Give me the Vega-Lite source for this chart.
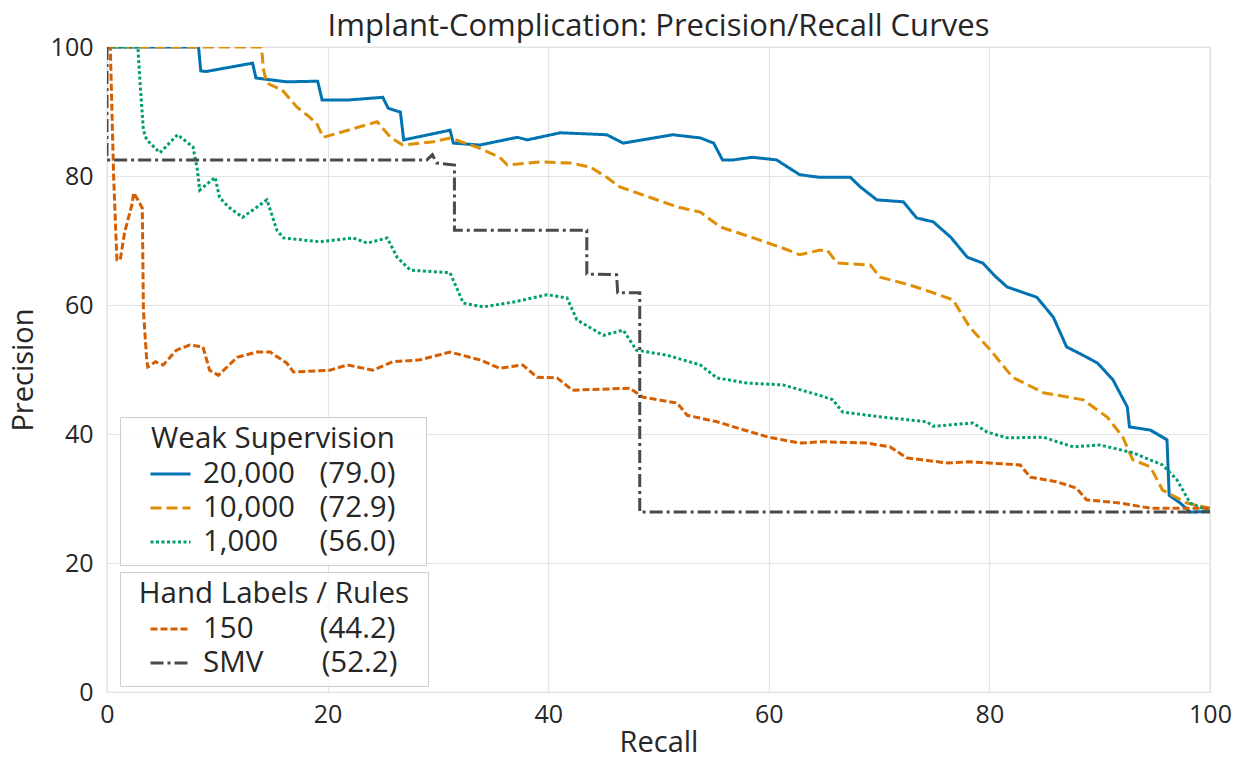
{
  "$schema": "https://vega.github.io/schema/vega-lite/v6.json",
  "width": 1103,
  "height": 645,
  "autosize": {"type": "none"},
  "padding": {"left": 107, "top": 47, "right": 26, "bottom": 67},
  "background": "white",
  "title": {"text": "Implant-Complication: Precision/Recall Curves", "fontSize": 31, "fontWeight": "normal", "color": "#262626", "anchor": "middle", "offset": -8},
  "config": {
    "font": "Open Sans",
    "view": {"stroke": "#cccccc", "strokeWidth": 1.2},
    "axis": {"grid": true, "gridColor": "#e3e3e3", "gridWidth": 1.2, "domain": false, "ticks": false, "labelFontSize": 25, "labelColor": "#262626", "titleFontSize": 29, "titleFontWeight": "normal", "titleColor": "#262626", "labelFlush": false},
    "legend": {"orient": "none", "titleAnchor": "middle", "titleFontSize": 29.5, "titleFontWeight": "normal", "titleColor": "#262626", "titleLimit": 500, "labelFontSize": 29.5, "labelColor": "#262626", "labelLimit": 500, "symbolType": "M-1.25,0H1.25", "symbolSize": 1024, "symbolStrokeWidth": 3, "strokeColor": "#cccccc", "fillColor": "rgba(255,255,255,0.8)", "padding": 8, "rowPadding": 2, "symbolOffset": 25, "labelOffset": 15, "titlePadding": 2}
  },
  "datasets": {
    "weak": [
      {"r": 0, "p": 100, "s": "20,000\u2007\u2008(79.0)\u2800"},
      {"r": 8.3, "p": 100, "s": "20,000\u2007\u2008(79.0)\u2800"},
      {"r": 8.5, "p": 96.3, "s": "20,000\u2007\u2008(79.0)\u2800"},
      {"r": 9.0, "p": 96.2, "s": "20,000\u2007\u2008(79.0)\u2800"},
      {"r": 13.2, "p": 97.5, "s": "20,000\u2007\u2008(79.0)\u2800"},
      {"r": 13.5, "p": 95.2, "s": "20,000\u2007\u2008(79.0)\u2800"},
      {"r": 16.3, "p": 94.6, "s": "20,000\u2007\u2008(79.0)\u2800"},
      {"r": 19.1, "p": 94.7, "s": "20,000\u2007\u2008(79.0)\u2800"},
      {"r": 19.5, "p": 91.8, "s": "20,000\u2007\u2008(79.0)\u2800"},
      {"r": 22.0, "p": 91.8, "s": "20,000\u2007\u2008(79.0)\u2800"},
      {"r": 25.0, "p": 92.2, "s": "20,000\u2007\u2008(79.0)\u2800"},
      {"r": 25.5, "p": 90.5, "s": "20,000\u2007\u2008(79.0)\u2800"},
      {"r": 26.6, "p": 89.9, "s": "20,000\u2007\u2008(79.0)\u2800"},
      {"r": 26.9, "p": 85.6, "s": "20,000\u2007\u2008(79.0)\u2800"},
      {"r": 31.1, "p": 87.1, "s": "20,000\u2007\u2008(79.0)\u2800"},
      {"r": 31.4, "p": 85.1, "s": "20,000\u2007\u2008(79.0)\u2800"},
      {"r": 33.8, "p": 84.8, "s": "20,000\u2007\u2008(79.0)\u2800"},
      {"r": 37.2, "p": 86.0, "s": "20,000\u2007\u2008(79.0)\u2800"},
      {"r": 38.1, "p": 85.6, "s": "20,000\u2007\u2008(79.0)\u2800"},
      {"r": 41.1, "p": 86.7, "s": "20,000\u2007\u2008(79.0)\u2800"},
      {"r": 45.3, "p": 86.4, "s": "20,000\u2007\u2008(79.0)\u2800"},
      {"r": 46.8, "p": 85.1, "s": "20,000\u2007\u2008(79.0)\u2800"},
      {"r": 51.3, "p": 86.4, "s": "20,000\u2007\u2008(79.0)\u2800"},
      {"r": 53.8, "p": 85.9, "s": "20,000\u2007\u2008(79.0)\u2800"},
      {"r": 55.0, "p": 85.1, "s": "20,000\u2007\u2008(79.0)\u2800"},
      {"r": 55.8, "p": 82.5, "s": "20,000\u2007\u2008(79.0)\u2800"},
      {"r": 56.8, "p": 82.5, "s": "20,000\u2007\u2008(79.0)\u2800"},
      {"r": 58.5, "p": 82.9, "s": "20,000\u2007\u2008(79.0)\u2800"},
      {"r": 60.7, "p": 82.5, "s": "20,000\u2007\u2008(79.0)\u2800"},
      {"r": 62.8, "p": 80.2, "s": "20,000\u2007\u2008(79.0)\u2800"},
      {"r": 64.6, "p": 79.8, "s": "20,000\u2007\u2008(79.0)\u2800"},
      {"r": 67.4, "p": 79.8, "s": "20,000\u2007\u2008(79.0)\u2800"},
      {"r": 68.3, "p": 78.3, "s": "20,000\u2007\u2008(79.0)\u2800"},
      {"r": 69.8, "p": 76.3, "s": "20,000\u2007\u2008(79.0)\u2800"},
      {"r": 72.2, "p": 76.0, "s": "20,000\u2007\u2008(79.0)\u2800"},
      {"r": 73.4, "p": 73.5, "s": "20,000\u2007\u2008(79.0)\u2800"},
      {"r": 74.9, "p": 72.9, "s": "20,000\u2007\u2008(79.0)\u2800"},
      {"r": 76.5, "p": 70.5, "s": "20,000\u2007\u2008(79.0)\u2800"},
      {"r": 78.0, "p": 67.4, "s": "20,000\u2007\u2008(79.0)\u2800"},
      {"r": 79.4, "p": 66.5, "s": "20,000\u2007\u2008(79.0)\u2800"},
      {"r": 80.5, "p": 64.5, "s": "20,000\u2007\u2008(79.0)\u2800"},
      {"r": 81.6, "p": 62.8, "s": "20,000\u2007\u2008(79.0)\u2800"},
      {"r": 84.3, "p": 61.2, "s": "20,000\u2007\u2008(79.0)\u2800"},
      {"r": 85.8, "p": 58.1, "s": "20,000\u2007\u2008(79.0)\u2800"},
      {"r": 87.0, "p": 53.5, "s": "20,000\u2007\u2008(79.0)\u2800"},
      {"r": 88.5, "p": 52.2, "s": "20,000\u2007\u2008(79.0)\u2800"},
      {"r": 89.8, "p": 51.0, "s": "20,000\u2007\u2008(79.0)\u2800"},
      {"r": 91.2, "p": 48.4, "s": "20,000\u2007\u2008(79.0)\u2800"},
      {"r": 92.5, "p": 44.2, "s": "20,000\u2007\u2008(79.0)\u2800"},
      {"r": 92.7, "p": 41.1, "s": "20,000\u2007\u2008(79.0)\u2800"},
      {"r": 94.6, "p": 40.6, "s": "20,000\u2007\u2008(79.0)\u2800"},
      {"r": 96.1, "p": 39.1, "s": "20,000\u2007\u2008(79.0)\u2800"},
      {"r": 96.3, "p": 30.5, "s": "20,000\u2007\u2008(79.0)\u2800"},
      {"r": 97.3, "p": 29.3, "s": "20,000\u2007\u2008(79.0)\u2800"},
      {"r": 98.2, "p": 27.9, "s": "20,000\u2007\u2008(79.0)\u2800"},
      {"r": 100, "p": 28.0, "s": "20,000\u2007\u2008(79.0)\u2800"},

      {"r": 0, "p": 100, "s": "10,000\u2007\u2008(72.9)\u2800"},
      {"r": 14.0, "p": 100, "s": "10,000\u2007\u2008(72.9)\u2800"},
      {"r": 14.2, "p": 96.4, "s": "10,000\u2007\u2008(72.9)\u2800"},
      {"r": 14.5, "p": 94.4, "s": "10,000\u2007\u2008(72.9)\u2800"},
      {"r": 15.9, "p": 93.3, "s": "10,000\u2007\u2008(72.9)\u2800"},
      {"r": 17.2, "p": 90.7, "s": "10,000\u2007\u2008(72.9)\u2800"},
      {"r": 18.1, "p": 89.5, "s": "10,000\u2007\u2008(72.9)\u2800"},
      {"r": 19.0, "p": 88.2, "s": "10,000\u2007\u2008(72.9)\u2800"},
      {"r": 19.6, "p": 86.0, "s": "10,000\u2007\u2008(72.9)\u2800"},
      {"r": 24.5, "p": 88.4, "s": "10,000\u2007\u2008(72.9)\u2800"},
      {"r": 25.7, "p": 86.0, "s": "10,000\u2007\u2008(72.9)\u2800"},
      {"r": 26.8, "p": 84.8, "s": "10,000\u2007\u2008(72.9)\u2800"},
      {"r": 29.6, "p": 85.3, "s": "10,000\u2007\u2008(72.9)\u2800"},
      {"r": 31.1, "p": 85.9, "s": "10,000\u2007\u2008(72.9)\u2800"},
      {"r": 33.5, "p": 84.5, "s": "10,000\u2007\u2008(72.9)\u2800"},
      {"r": 35.6, "p": 82.9, "s": "10,000\u2007\u2008(72.9)\u2800"},
      {"r": 36.3, "p": 81.7, "s": "10,000\u2007\u2008(72.9)\u2800"},
      {"r": 39.5, "p": 82.2, "s": "10,000\u2007\u2008(72.9)\u2800"},
      {"r": 42.0, "p": 82.0, "s": "10,000\u2007\u2008(72.9)\u2800"},
      {"r": 43.8, "p": 81.4, "s": "10,000\u2007\u2008(72.9)\u2800"},
      {"r": 45.3, "p": 79.8, "s": "10,000\u2007\u2008(72.9)\u2800"},
      {"r": 46.5, "p": 78.3, "s": "10,000\u2007\u2008(72.9)\u2800"},
      {"r": 49.2, "p": 76.7, "s": "10,000\u2007\u2008(72.9)\u2800"},
      {"r": 51.7, "p": 75.2, "s": "10,000\u2007\u2008(72.9)\u2800"},
      {"r": 53.8, "p": 74.4, "s": "10,000\u2007\u2008(72.9)\u2800"},
      {"r": 55.6, "p": 72.1, "s": "10,000\u2007\u2008(72.9)\u2800"},
      {"r": 58.6, "p": 70.4, "s": "10,000\u2007\u2008(72.9)\u2800"},
      {"r": 61.3, "p": 68.8, "s": "10,000\u2007\u2008(72.9)\u2800"},
      {"r": 62.8, "p": 67.8, "s": "10,000\u2007\u2008(72.9)\u2800"},
      {"r": 64.6, "p": 68.5, "s": "10,000\u2007\u2008(72.9)\u2800"},
      {"r": 65.3, "p": 68.5, "s": "10,000\u2007\u2008(72.9)\u2800"},
      {"r": 66.2, "p": 66.5, "s": "10,000\u2007\u2008(72.9)\u2800"},
      {"r": 69.2, "p": 66.2, "s": "10,000\u2007\u2008(72.9)\u2800"},
      {"r": 70.1, "p": 64.3, "s": "10,000\u2007\u2008(72.9)\u2800"},
      {"r": 72.8, "p": 63.1, "s": "10,000\u2007\u2008(72.9)\u2800"},
      {"r": 74.9, "p": 61.9, "s": "10,000\u2007\u2008(72.9)\u2800"},
      {"r": 76.7, "p": 60.8, "s": "10,000\u2007\u2008(72.9)\u2800"},
      {"r": 78.2, "p": 56.6, "s": "10,000\u2007\u2008(72.9)\u2800"},
      {"r": 80.1, "p": 53.0, "s": "10,000\u2007\u2008(72.9)\u2800"},
      {"r": 82.1, "p": 48.8, "s": "10,000\u2007\u2008(72.9)\u2800"},
      {"r": 84.9, "p": 46.4, "s": "10,000\u2007\u2008(72.9)\u2800"},
      {"r": 88.5, "p": 45.3, "s": "10,000\u2007\u2008(72.9)\u2800"},
      {"r": 90.7, "p": 42.6, "s": "10,000\u2007\u2008(72.9)\u2800"},
      {"r": 92.1, "p": 39.5, "s": "10,000\u2007\u2008(72.9)\u2800"},
      {"r": 93.0, "p": 36.0, "s": "10,000\u2007\u2008(72.9)\u2800"},
      {"r": 94.6, "p": 34.9, "s": "10,000\u2007\u2008(72.9)\u2800"},
      {"r": 95.7, "p": 31.3, "s": "10,000\u2007\u2008(72.9)\u2800"},
      {"r": 97.9, "p": 29.3, "s": "10,000\u2007\u2008(72.9)\u2800"},
      {"r": 100, "p": 28.5, "s": "10,000\u2007\u2008(72.9)\u2800"},

      {"r": 0, "p": 100, "s": "1,000\u2007\u2007\u2008(56.0)\u2800"},
      {"r": 2.8, "p": 100, "s": "1,000\u2007\u2007\u2008(56.0)\u2800"},
      {"r": 3.0, "p": 94.4, "s": "1,000\u2007\u2007\u2008(56.0)\u2800"},
      {"r": 3.3, "p": 87.1, "s": "1,000\u2007\u2007\u2008(56.0)\u2800"},
      {"r": 3.6, "p": 85.6, "s": "1,000\u2007\u2007\u2008(56.0)\u2800"},
      {"r": 4.8, "p": 83.6, "s": "1,000\u2007\u2007\u2008(56.0)\u2800"},
      {"r": 6.4, "p": 86.4, "s": "1,000\u2007\u2007\u2008(56.0)\u2800"},
      {"r": 7.8, "p": 84.5, "s": "1,000\u2007\u2007\u2008(56.0)\u2800"},
      {"r": 8.2, "p": 80.9, "s": "1,000\u2007\u2007\u2008(56.0)\u2800"},
      {"r": 8.4, "p": 77.8, "s": "1,000\u2007\u2007\u2008(56.0)\u2800"},
      {"r": 9.8, "p": 79.8, "s": "1,000\u2007\u2007\u2008(56.0)\u2800"},
      {"r": 10.2, "p": 76.7, "s": "1,000\u2007\u2007\u2008(56.0)\u2800"},
      {"r": 11.0, "p": 75.2, "s": "1,000\u2007\u2007\u2008(56.0)\u2800"},
      {"r": 12.3, "p": 73.6, "s": "1,000\u2007\u2007\u2008(56.0)\u2800"},
      {"r": 14.5, "p": 76.3, "s": "1,000\u2007\u2007\u2008(56.0)\u2800"},
      {"r": 15.4, "p": 71.6, "s": "1,000\u2007\u2007\u2008(56.0)\u2800"},
      {"r": 16.0, "p": 70.4, "s": "1,000\u2007\u2007\u2008(56.0)\u2800"},
      {"r": 19.3, "p": 69.8, "s": "1,000\u2007\u2007\u2008(56.0)\u2800"},
      {"r": 22.3, "p": 70.4, "s": "1,000\u2007\u2007\u2008(56.0)\u2800"},
      {"r": 23.6, "p": 69.6, "s": "1,000\u2007\u2007\u2008(56.0)\u2800"},
      {"r": 25.4, "p": 70.4, "s": "1,000\u2007\u2007\u2008(56.0)\u2800"},
      {"r": 26.3, "p": 67.4, "s": "1,000\u2007\u2007\u2008(56.0)\u2800"},
      {"r": 27.5, "p": 65.4, "s": "1,000\u2007\u2007\u2008(56.0)\u2800"},
      {"r": 31.1, "p": 65.0, "s": "1,000\u2007\u2007\u2008(56.0)\u2800"},
      {"r": 32.3, "p": 60.3, "s": "1,000\u2007\u2007\u2008(56.0)\u2800"},
      {"r": 34.1, "p": 59.7, "s": "1,000\u2007\u2007\u2008(56.0)\u2800"},
      {"r": 37.0, "p": 60.5, "s": "1,000\u2007\u2007\u2008(56.0)\u2800"},
      {"r": 39.9, "p": 61.6, "s": "1,000\u2007\u2007\u2008(56.0)\u2800"},
      {"r": 41.7, "p": 61.1, "s": "1,000\u2007\u2007\u2008(56.0)\u2800"},
      {"r": 42.6, "p": 57.7, "s": "1,000\u2007\u2007\u2008(56.0)\u2800"},
      {"r": 45.0, "p": 55.3, "s": "1,000\u2007\u2007\u2008(56.0)\u2800"},
      {"r": 46.8, "p": 56.1, "s": "1,000\u2007\u2007\u2008(56.0)\u2800"},
      {"r": 48.0, "p": 53.0, "s": "1,000\u2007\u2007\u2008(56.0)\u2800"},
      {"r": 50.8, "p": 52.2, "s": "1,000\u2007\u2007\u2008(56.0)\u2800"},
      {"r": 53.8, "p": 50.7, "s": "1,000\u2007\u2007\u2008(56.0)\u2800"},
      {"r": 55.3, "p": 48.7, "s": "1,000\u2007\u2007\u2008(56.0)\u2800"},
      {"r": 58.0, "p": 47.9, "s": "1,000\u2007\u2007\u2008(56.0)\u2800"},
      {"r": 61.3, "p": 47.6, "s": "1,000\u2007\u2007\u2008(56.0)\u2800"},
      {"r": 64.6, "p": 46.0, "s": "1,000\u2007\u2007\u2008(56.0)\u2800"},
      {"r": 65.8, "p": 45.3, "s": "1,000\u2007\u2007\u2008(56.0)\u2800"},
      {"r": 66.7, "p": 43.4, "s": "1,000\u2007\u2007\u2008(56.0)\u2800"},
      {"r": 70.4, "p": 42.6, "s": "1,000\u2007\u2007\u2008(56.0)\u2800"},
      {"r": 74.3, "p": 41.9, "s": "1,000\u2007\u2007\u2008(56.0)\u2800"},
      {"r": 74.9, "p": 41.2, "s": "1,000\u2007\u2007\u2008(56.0)\u2800"},
      {"r": 78.5, "p": 41.7, "s": "1,000\u2007\u2007\u2008(56.0)\u2800"},
      {"r": 79.8, "p": 40.3, "s": "1,000\u2007\u2007\u2008(56.0)\u2800"},
      {"r": 81.6, "p": 39.4, "s": "1,000\u2007\u2007\u2008(56.0)\u2800"},
      {"r": 84.9, "p": 39.5, "s": "1,000\u2007\u2007\u2008(56.0)\u2800"},
      {"r": 87.6, "p": 38.0, "s": "1,000\u2007\u2007\u2008(56.0)\u2800"},
      {"r": 90.0, "p": 38.3, "s": "1,000\u2007\u2007\u2008(56.0)\u2800"},
      {"r": 93.0, "p": 37.1, "s": "1,000\u2007\u2007\u2008(56.0)\u2800"},
      {"r": 95.7, "p": 35.2, "s": "1,000\u2007\u2007\u2008(56.0)\u2800"},
      {"r": 97.0, "p": 32.9, "s": "1,000\u2007\u2007\u2008(56.0)\u2800"},
      {"r": 98.2, "p": 29.3, "s": "1,000\u2007\u2007\u2008(56.0)\u2800"},
      {"r": 100, "p": 28.0, "s": "1,000\u2007\u2007\u2008(56.0)\u2800"}
    ],
    "hand": [
      {"r": 0, "p": 100, "s": "150\u2007\u2007\u2007\u2008\u2008(44.2)\u2800"},
      {"r": 0.3, "p": 100, "s": "150\u2007\u2007\u2007\u2008\u2008(44.2)\u2800"},
      {"r": 0.6, "p": 80, "s": "150\u2007\u2007\u2007\u2008\u2008(44.2)\u2800"},
      {"r": 0.9, "p": 67, "s": "150\u2007\u2007\u2007\u2008\u2008(44.2)\u2800"},
      {"r": 1.2, "p": 67, "s": "150\u2007\u2007\u2007\u2008\u2008(44.2)\u2800"},
      {"r": 1.6, "p": 71.3, "s": "150\u2007\u2007\u2007\u2008\u2008(44.2)\u2800"},
      {"r": 2.3, "p": 75.8, "s": "150\u2007\u2007\u2007\u2008\u2008(44.2)\u2800"},
      {"r": 2.4, "p": 77.4, "s": "150\u2007\u2007\u2007\u2008\u2008(44.2)\u2800"},
      {"r": 2.8, "p": 76.3, "s": "150\u2007\u2007\u2007\u2008\u2008(44.2)\u2800"},
      {"r": 3.2, "p": 75.0, "s": "150\u2007\u2007\u2007\u2008\u2008(44.2)\u2800"},
      {"r": 3.3, "p": 59.2, "s": "150\u2007\u2007\u2007\u2008\u2008(44.2)\u2800"},
      {"r": 3.6, "p": 51.5, "s": "150\u2007\u2007\u2007\u2008\u2008(44.2)\u2800"},
      {"r": 3.7, "p": 50.4, "s": "150\u2007\u2007\u2007\u2008\u2008(44.2)\u2800"},
      {"r": 4.4, "p": 51.2, "s": "150\u2007\u2007\u2007\u2008\u2008(44.2)\u2800"},
      {"r": 5.1, "p": 50.7, "s": "150\u2007\u2007\u2007\u2008\u2008(44.2)\u2800"},
      {"r": 6.3, "p": 53.0, "s": "150\u2007\u2007\u2007\u2008\u2008(44.2)\u2800"},
      {"r": 7.5, "p": 53.8, "s": "150\u2007\u2007\u2007\u2008\u2008(44.2)\u2800"},
      {"r": 8.7, "p": 53.5, "s": "150\u2007\u2007\u2007\u2008\u2008(44.2)\u2800"},
      {"r": 9.3, "p": 49.9, "s": "150\u2007\u2007\u2007\u2008\u2008(44.2)\u2800"},
      {"r": 10.1, "p": 49.1, "s": "150\u2007\u2007\u2007\u2008\u2008(44.2)\u2800"},
      {"r": 11.8, "p": 51.9, "s": "150\u2007\u2007\u2007\u2008\u2008(44.2)\u2800"},
      {"r": 13.6, "p": 52.7, "s": "150\u2007\u2007\u2007\u2008\u2008(44.2)\u2800"},
      {"r": 14.8, "p": 52.7, "s": "150\u2007\u2007\u2007\u2008\u2008(44.2)\u2800"},
      {"r": 16.3, "p": 51.0, "s": "150\u2007\u2007\u2007\u2008\u2008(44.2)\u2800"},
      {"r": 16.9, "p": 49.6, "s": "150\u2007\u2007\u2007\u2008\u2008(44.2)\u2800"},
      {"r": 20.2, "p": 49.9, "s": "150\u2007\u2007\u2007\u2008\u2008(44.2)\u2800"},
      {"r": 21.8, "p": 50.7, "s": "150\u2007\u2007\u2007\u2008\u2008(44.2)\u2800"},
      {"r": 24.1, "p": 49.9, "s": "150\u2007\u2007\u2007\u2008\u2008(44.2)\u2800"},
      {"r": 25.9, "p": 51.2, "s": "150\u2007\u2007\u2007\u2008\u2008(44.2)\u2800"},
      {"r": 28.4, "p": 51.5, "s": "150\u2007\u2007\u2007\u2008\u2008(44.2)\u2800"},
      {"r": 31.1, "p": 52.7, "s": "150\u2007\u2007\u2007\u2008\u2008(44.2)\u2800"},
      {"r": 33.8, "p": 51.5, "s": "150\u2007\u2007\u2007\u2008\u2008(44.2)\u2800"},
      {"r": 35.6, "p": 50.2, "s": "150\u2007\u2007\u2007\u2008\u2008(44.2)\u2800"},
      {"r": 37.7, "p": 50.7, "s": "150\u2007\u2007\u2007\u2008\u2008(44.2)\u2800"},
      {"r": 39.0, "p": 48.8, "s": "150\u2007\u2007\u2007\u2008\u2008(44.2)\u2800"},
      {"r": 40.8, "p": 48.7, "s": "150\u2007\u2007\u2007\u2008\u2008(44.2)\u2800"},
      {"r": 42.2, "p": 46.8, "s": "150\u2007\u2007\u2007\u2008\u2008(44.2)\u2800"},
      {"r": 47.4, "p": 47.1, "s": "150\u2007\u2007\u2007\u2008\u2008(44.2)\u2800"},
      {"r": 48.6, "p": 45.7, "s": "150\u2007\u2007\u2007\u2008\u2008(44.2)\u2800"},
      {"r": 51.7, "p": 44.8, "s": "150\u2007\u2007\u2007\u2008\u2008(44.2)\u2800"},
      {"r": 52.6, "p": 42.9, "s": "150\u2007\u2007\u2007\u2008\u2008(44.2)\u2800"},
      {"r": 55.3, "p": 41.9, "s": "150\u2007\u2007\u2007\u2008\u2008(44.2)\u2800"},
      {"r": 58.0, "p": 40.5, "s": "150\u2007\u2007\u2007\u2008\u2008(44.2)\u2800"},
      {"r": 60.0, "p": 39.5, "s": "150\u2007\u2007\u2007\u2008\u2008(44.2)\u2800"},
      {"r": 62.8, "p": 38.6, "s": "150\u2007\u2007\u2007\u2008\u2008(44.2)\u2800"},
      {"r": 64.9, "p": 38.8, "s": "150\u2007\u2007\u2007\u2008\u2008(44.2)\u2800"},
      {"r": 68.9, "p": 38.6, "s": "150\u2007\u2007\u2007\u2008\u2008(44.2)\u2800"},
      {"r": 71.0, "p": 38.0, "s": "150\u2007\u2007\u2007\u2008\u2008(44.2)\u2800"},
      {"r": 72.5, "p": 36.3, "s": "150\u2007\u2007\u2007\u2008\u2008(44.2)\u2800"},
      {"r": 76.2, "p": 35.5, "s": "150\u2007\u2007\u2007\u2008\u2008(44.2)\u2800"},
      {"r": 78.2, "p": 35.7, "s": "150\u2007\u2007\u2007\u2008\u2008(44.2)\u2800"},
      {"r": 82.8, "p": 35.2, "s": "150\u2007\u2007\u2007\u2008\u2008(44.2)\u2800"},
      {"r": 83.7, "p": 33.3, "s": "150\u2007\u2007\u2007\u2008\u2008(44.2)\u2800"},
      {"r": 86.1, "p": 32.6, "s": "150\u2007\u2007\u2007\u2008\u2008(44.2)\u2800"},
      {"r": 87.9, "p": 31.6, "s": "150\u2007\u2007\u2007\u2008\u2008(44.2)\u2800"},
      {"r": 88.8, "p": 29.8, "s": "150\u2007\u2007\u2007\u2008\u2008(44.2)\u2800"},
      {"r": 91.8, "p": 29.3, "s": "150\u2007\u2007\u2007\u2008\u2008(44.2)\u2800"},
      {"r": 94.6, "p": 28.5, "s": "150\u2007\u2007\u2007\u2008\u2008(44.2)\u2800"},
      {"r": 100, "p": 28.5, "s": "150\u2007\u2007\u2007\u2008\u2008(44.2)\u2800"},

      {"r": 0, "p": 100, "s": "SMV\u2007\u2007\u2007\u2008(52.2)\u2800"},
      {"r": 0, "p": 82.5, "s": "SMV\u2007\u2007\u2007\u2008(52.2)\u2800"},
      {"r": 29.0, "p": 82.5, "s": "SMV\u2007\u2007\u2007\u2008(52.2)\u2800"},
      {"r": 29.5, "p": 83.3, "s": "SMV\u2007\u2007\u2007\u2008(52.2)\u2800"},
      {"r": 29.9, "p": 82.0, "s": "SMV\u2007\u2007\u2007\u2008(52.2)\u2800"},
      {"r": 31.5, "p": 81.7, "s": "SMV\u2007\u2007\u2007\u2008(52.2)\u2800"},
      {"r": 31.5, "p": 71.6, "s": "SMV\u2007\u2007\u2007\u2008(52.2)\u2800"},
      {"r": 43.5, "p": 71.6, "s": "SMV\u2007\u2007\u2007\u2008(52.2)\u2800"},
      {"r": 43.5, "p": 64.8, "s": "SMV\u2007\u2007\u2007\u2008(52.2)\u2800"},
      {"r": 46.2, "p": 64.7, "s": "SMV\u2007\u2007\u2007\u2008(52.2)\u2800"},
      {"r": 46.3, "p": 61.9, "s": "SMV\u2007\u2007\u2007\u2008(52.2)\u2800"},
      {"r": 48.3, "p": 61.9, "s": "SMV\u2007\u2007\u2007\u2008(52.2)\u2800"},
      {"r": 48.3, "p": 27.9, "s": "SMV\u2007\u2007\u2007\u2008(52.2)\u2800"},
      {"r": 100, "p": 27.9, "s": "SMV\u2007\u2007\u2007\u2008(52.2)\u2800"}
    ]
  },
  "encoding": {
    "x": {"field": "r", "type": "quantitative", "scale": {"domain": [0, 100], "nice": false}, "axis": {"values": [0, 20, 40, 60, 80, 100], "title": "Recall", "labelPadding": 10, "titlePadding": 1}},
    "y": {"field": "p", "type": "quantitative", "scale": {"domain": [0, 100], "nice": false}, "axis": {"values": [0, 20, 40, 60, 80, 100], "title": "Precision", "labelPadding": 14, "titlePadding": 12}},
    "order": {"value": null}
  },
  "layer": [
    {
      "data": {"name": "weak"},
      "mark": {"type": "line", "strokeWidth": 3, "clip": true},
      "encoding": {
        "color": {"field": "s", "type": "nominal", "sort": null,
          "scale": {"domain": ["20,000\u2007\u2008(79.0)\u2800", "10,000\u2007\u2008(72.9)\u2800", "1,000\u2007\u2007\u2008(56.0)\u2800"], "range": ["#0173B2", "#DE8F05", "#029E73"]},
          "legend": {"title": "Weak Supervision", "legendX": 13, "legendY": 370}},
        "strokeDash": {"field": "s", "type": "nominal", "sort": null,
          "scale": {"domain": ["20,000\u2007\u2008(79.0)\u2800", "10,000\u2007\u2008(72.9)\u2800", "1,000\u2007\u2007\u2008(56.0)\u2800"], "range": [[1, 0], [11, 5], [3, 2.5]]},
          "legend": {"title": "Weak Supervision", "legendX": 13, "legendY": 370}}
      }
    },
    {
      "data": {"name": "hand"},
      "mark": {"type": "line", "strokeWidth": 3, "clip": true},
      "encoding": {
        "color": {"field": "s", "type": "nominal", "sort": null,
          "scale": {"domain": ["150\u2007\u2007\u2007\u2008\u2008(44.2)\u2800", "SMV\u2007\u2007\u2007\u2008(52.2)\u2800"], "range": ["#D55E00", "#4a4a4a"]},
          "legend": {"title": "Hand Labels / Rules", "legendX": 13, "legendY": 525}},
        "strokeDash": {"field": "s", "type": "nominal", "sort": null,
          "scale": {"domain": ["150\u2007\u2007\u2007\u2008\u2008(44.2)\u2800", "SMV\u2007\u2007\u2007\u2008(52.2)\u2800"], "range": [[7, 3], [13, 4, 3, 4]]},
          "legend": {"title": "Hand Labels / Rules", "legendX": 13, "legendY": 525}}
      }
    }
  ],
  "resolve": {"scale": {"color": "independent", "strokeDash": "independent"}}
}
